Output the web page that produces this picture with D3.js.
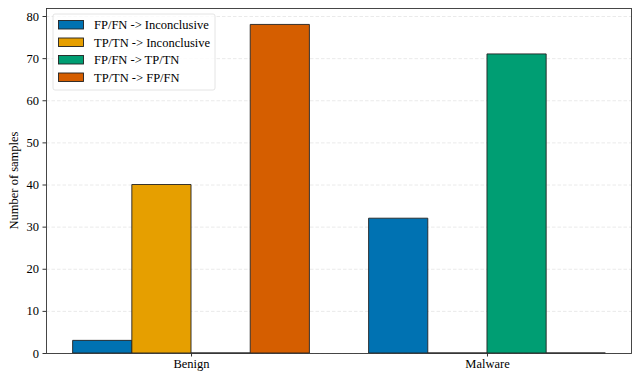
<!DOCTYPE html>
<html>
<head>
<meta charset="utf-8">
<script src="https://cdn.jsdelivr.net/npm/d3@7"></script>
<style>
  html, body { margin: 0; padding: 0; background: #fff; }
  svg, svg text { font-family: "Liberation Serif", "Times New Roman", "DejaVu Serif", serif !important; }
</style>
</head>
<body>
<svg id="chart" width="633" height="373"></svg>
<script>
// Sample groups and the transitions counted for each
const categories = ["Benign", "Malware"];
const seriesNames = ["FP/FN -> Inconclusive", "TP/TN -> Inconclusive", "FP/FN -> TP/TN", "TP/TN -> FP/FN"];
const seriesColors = ["#0072B2", "#E69F00", "#009E73", "#D55E00"];
const benignValues = [3, 40, 0, 78];
const malwareValues = [32, 0, 71, 0];
const yTicks = [0, 10, 20, 30, 40, 50, 60, 70, 80];

const valuesByCategory = [benignValues, malwareValues];
const barWidth = 0.2;
const serif = "'Liberation Serif', 'Times New Roman', serif";

const svg = d3.select("#chart");
const margin = { left: 46, right: 1, top: 8, bottom: 20 };
const W = 633, H = 373;

const x = d3.scaleLinear().domain([-0.49, 1.49]).range([margin.left, W - margin.right]);
const y = d3.scaleLinear().domain([0, 81.9]).range([H - margin.bottom, margin.top]);

// horizontal grid
svg.append("g")
  .selectAll("line")
  .data(yTicks)
  .join("line")
  .attr("x1", x.range()[0]).attr("x2", x.range()[1])
  .attr("y1", d => y(d) + 0.5).attr("y2", d => y(d) + 0.5)
  .attr("stroke", "#e4e4e4")
  .attr("stroke-width", 0.8)
  .attr("stroke-dasharray", "3.5,2");

// bars (drawn as closed paths so zero-height bars still show their edge)
const bars = [];
categories.forEach((c, ci) => {
  seriesNames.forEach((s, si) => {
    bars.push({ ci, si, v: valuesByCategory[ci][si], pos: ci + (si - 1.5) * barWidth });
  });
});
svg.append("g")
  .selectAll("path")
  .data(bars)
  .join("path")
  .attr("d", d => {
    const x0 = x(d.pos - barWidth / 2), x1 = x(d.pos + barWidth / 2);
    const y0 = y(0), y1 = y(d.v);
    return `M${x0},${y0}L${x0},${y1}L${x1},${y1}L${x1},${y0}Z`;
  })
  .attr("fill", d => seriesColors[d.si])
  .attr("stroke", "#222")
  .attr("stroke-width", 0.9);

// axes
const yAxis = d3.axisLeft(y).tickValues(yTicks).tickSize(3.5).tickPadding(3.5);
const gy = svg.append("g").attr("transform", `translate(${margin.left},0)`).call(yAxis);
gy.attr("font-family", serif);
gy.select(".domain").remove();
gy.selectAll("text").attr("font-size", 12.5).attr("fill", "#000");
gy.selectAll("line").attr("stroke", "#333");

const xAxis = d3.axisBottom(x).tickValues([0, 1]).tickFormat(i => categories[i]).tickSize(3.5).tickPadding(2.5);
const gx = svg.append("g").attr("transform", `translate(0,${H - margin.bottom})`).call(xAxis);
gx.attr("font-family", serif);
gx.select(".domain").remove();
gx.selectAll("text").attr("font-size", 12.5).attr("fill", "#000");
gx.selectAll("line").attr("stroke", "#333");

// frame
svg.append("rect")
  .attr("x", margin.left + 0.5).attr("y", margin.top + 0.5)
  .attr("width", W - margin.right - margin.left - 1)
  .attr("height", H - margin.bottom - margin.top)
  .attr("fill", "none").attr("stroke", "#333").attr("stroke-width", 0.9);

// y label
svg.append("text")
  .attr("transform", `translate(18,${(margin.top + H - margin.bottom) / 2}) rotate(-90)`)
  .attr("text-anchor", "middle")
  .attr("font-family", serif)
  .attr("font-size", 12.5)
  .text("Number of samples");

// legend
const lg = svg.append("g").attr("transform", "translate(53,14)");
lg.append("rect")
  .attr("width", 162).attr("height", 76).attr("rx", 2)
  .attr("fill", "#fff").attr("fill-opacity", 0.8)
  .attr("stroke", "#ddd").attr("stroke-width", 0.8);
seriesNames.forEach((s, i) => {
  const gy0 = 6 + i * 17.5;
  lg.append("rect")
    .attr("x", 5.5).attr("y", gy0 + 0.5)
    .attr("width", 25).attr("height", 8.5)
    .attr("fill", seriesColors[i]).attr("stroke", "#222").attr("stroke-width", 0.9);
  lg.append("text")
    .attr("x", 41).attr("y", gy0 + 9)
    .attr("font-family", serif)
    .attr("font-size", 12.5)
    .text(s);
});
</script>
</body>
</html>
